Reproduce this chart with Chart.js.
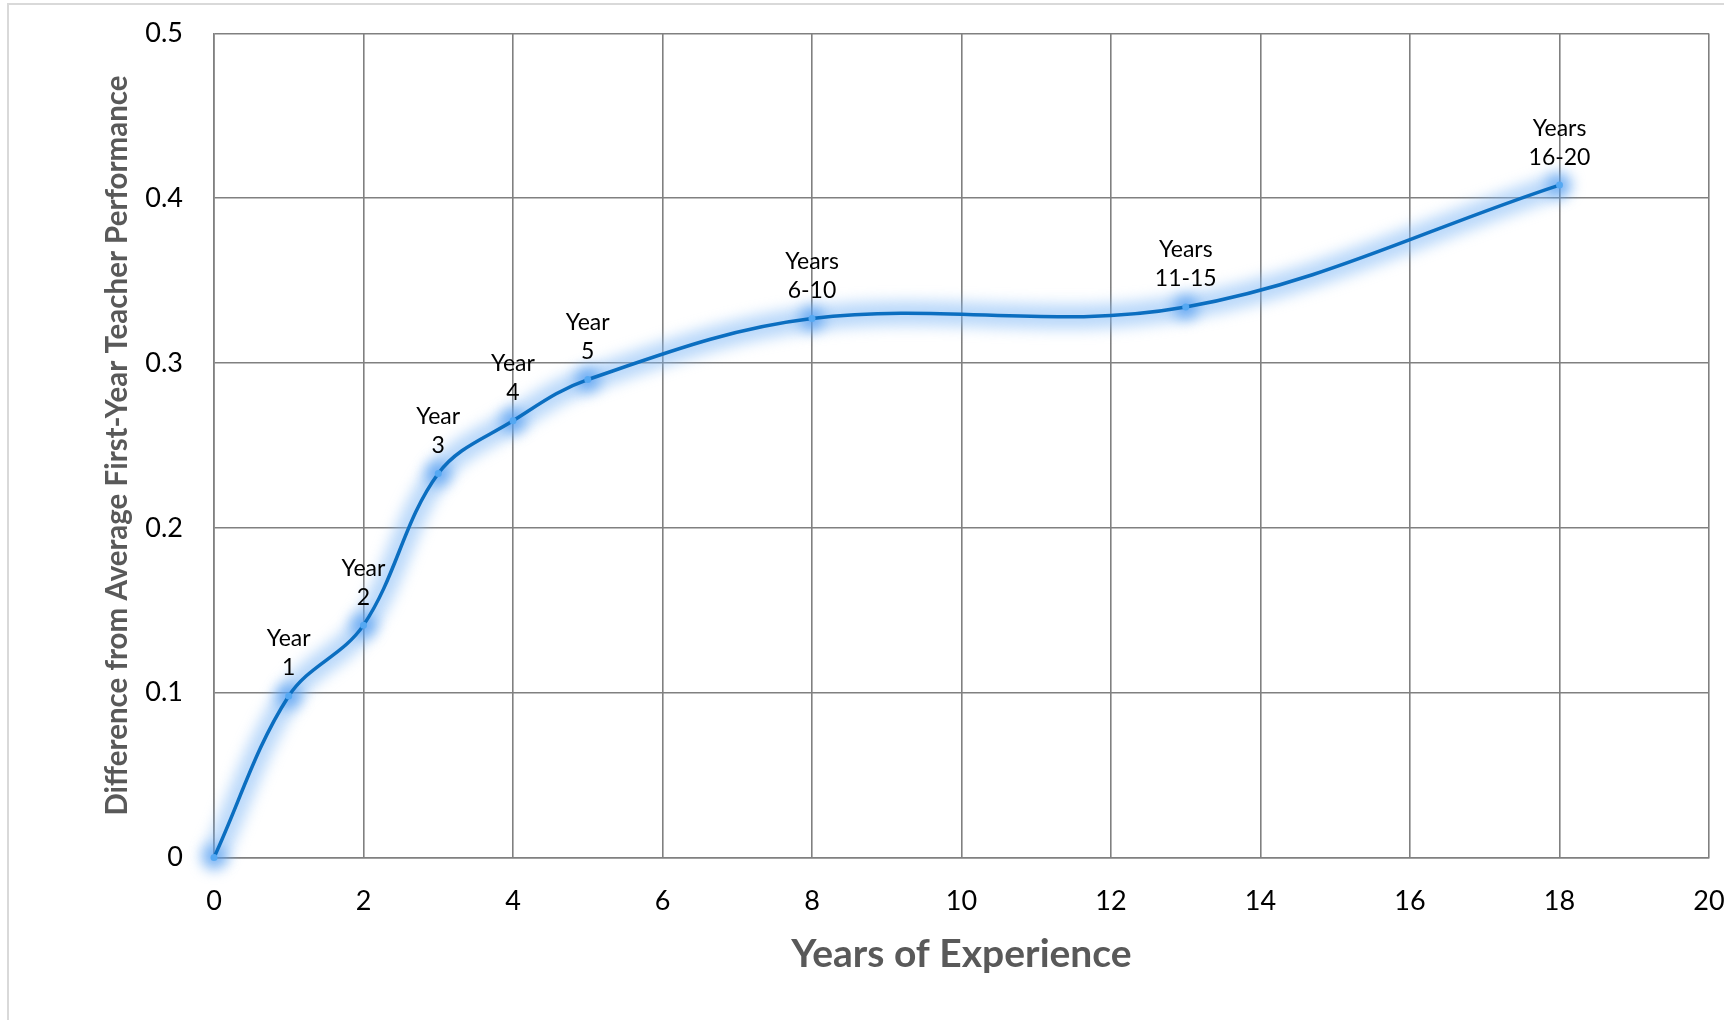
<!DOCTYPE html>
<html>
<head>
<meta charset="utf-8">
<script src="https://cdn.jsdelivr.net/npm/chart.js@4/dist/chart.umd.min.js"></script>
<style>
  html, body { margin: 0; padding: 0; background: #ffffff; overflow: hidden; }
  #wrap { position: relative; width: 1760px; height: 1020px; }
</style>
</head>
<body>
<div id="wrap"><canvas id="chart" width="1760" height="1020"></canvas></div>
<script>
// Years of experience (x) and gain over an average first-year teacher (y)
const years = [0, 1, 2, 3, 4, 5, 8, 13, 18];
const gains = [0, 0.098, 0.141, 0.233, 0.265, 0.290, 0.327, 0.334, 0.408];
const pointLabels = [
  null,
  ['Year', '1'], ['Year', '2'], ['Year', '3'], ['Year', '4'], ['Year', '5'],
  ['Years', '6-10'], ['Years', '11-15'], ['Years', '16-20']
];
const xTicks = [0, 2, 4, 6, 8, 10, 12, 14, 16, 18, 20];
const yTicks = [0, 0.1, 0.2, 0.3, 0.4, 0.5];

const points = years.map((x, i) => ({ x: x, y: gains[i] }));
const FONT = 'Lato, "Open Sans", sans-serif';

// light frame around the chart object
const framePlugin = {
  id: 'frame',
  beforeDraw(chart) {
    const ctx = chart.ctx;
    ctx.save();
    ctx.fillStyle = '#ffffff';
    ctx.fillRect(0, 0, chart.width, chart.height);
    ctx.strokeStyle = '#d9d9d9';
    ctx.lineWidth = 2;
    ctx.beginPath();
    ctx.moveTo(8, chart.height + 5);
    ctx.lineTo(8, 4);
    ctx.lineTo(chart.width + 5, 4);
    ctx.stroke();
    ctx.restore();
  }
};

// soft blur for the halo dataset
const glowPlugin = {
  id: 'glow',
  beforeDatasetDraw(chart, args) {
    if (chart.data.datasets[args.index].isGlow) {
      chart.ctx.save();
      chart.ctx.filter = 'blur(7px)';
    }
  },
  afterDatasetDraw(chart, args) {
    if (chart.data.datasets[args.index].isGlow) {
      chart.ctx.restore();
    }
  }
};

// two-line text above each point
const labelPlugin = {
  id: 'pointText',
  afterDatasetsDraw(chart) {
    const meta = chart.getDatasetMeta(0);
    const ctx = chart.ctx;
    ctx.save();
    ctx.font = '23px ' + FONT;
    ctx.fillStyle = '#000000';
    ctx.textAlign = 'center';
    ctx.textBaseline = 'middle';
    meta.data.forEach((pt, i) => {
      const lines = pointLabels[i];
      if (!lines) return;
      ctx.fillText(lines[0], pt.x, pt.y - 57);
      ctx.fillText(lines[1], pt.x, pt.y - 28);
    });
    ctx.restore();
  }
};

new Chart(document.getElementById('chart'), {
  type: 'line',
  data: {
    datasets: [
      {
        data: points,
        order: 1,
        borderColor: '#0b6ec0',
        borderWidth: 3.5,
        tension: 0.36,
        pointRadius: 3.5,
        pointBackgroundColor: '#55a8f2',
        pointBorderWidth: 0,
        clip: false
      },
      {
        data: points,
        order: 2,
        isGlow: true,
        borderColor: 'rgba(125,182,245,0.52)',
        borderWidth: 25,
        tension: 0.36,
        pointRadius: 12,
        pointBackgroundColor: 'rgba(70,150,240,0.7)',
        pointBorderWidth: 0,
        clip: false
      }
    ]
  },
  options: {
    responsive: false,
    animation: false,
    devicePixelRatio: 1,
    layout: { padding: { left: 0, top: 33.5, right: 51, bottom: 0 } },
    plugins: { legend: { display: false }, tooltip: { enabled: false } },
    scales: {
      x: {
        type: 'linear',
        min: 0,
        max: 20,
        afterBuildTicks(scale) { scale.ticks = xTicks.map(v => ({ value: v })); },
        afterFit(scale) {
          scale.height = 162.5;
          scale.paddingLeft = 0;
          scale.paddingRight = 0;
        },
        grid: { color: '#808080', lineWidth: 1.6, drawTicks: false },
        border: { color: '#808080', width: 1.6 },
        ticks: {
          padding: 28,
          color: '#000000',
          font: { family: FONT, size: 27 },
          maxRotation: 0,
          autoSkip: false,
          callback: v => String(v)
        },
        title: {
          display: true,
          text: 'Years of Experience',
          color: '#595959',
          font: { family: FONT, size: 39, weight: 'bold' },
          padding: { top: 0, bottom: 42 }
        }
      },
      y: {
        min: 0,
        max: 0.5,
        afterBuildTicks(scale) { scale.ticks = yTicks.map(v => ({ value: v })); },
        afterFit(scale) {
          scale.width = 214;
          scale.paddingTop = 0;
          scale.paddingBottom = 0;
        },
        grid: { color: '#808080', lineWidth: 1.6, drawTicks: false },
        border: { color: '#808080', width: 1.6 },
        ticks: {
          padding: 31,
          color: '#000000',
          font: { family: FONT, size: 27 },
          autoSkip: false,
          callback: v => String(Math.round(v * 10) / 10)
        },
        title: {
          display: true,
          text: 'Difference from Average First-Year Teacher Performance',
          color: '#595959',
          font: { family: FONT, size: 29.5, weight: 'bold' },
          padding: { top: 100, bottom: 0 }
        }
      }
    }
  },
  plugins: [framePlugin, glowPlugin, labelPlugin]
});
</script>
</body>
</html>
